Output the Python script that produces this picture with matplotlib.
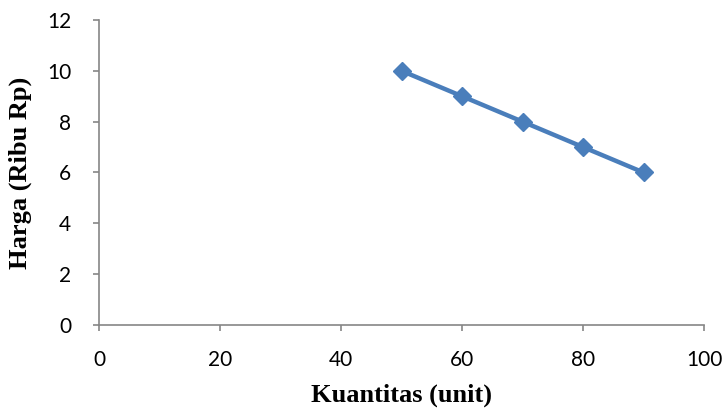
import matplotlib.pyplot as plt

kuantitas = [50, 60, 70, 80, 90]
harga = [10, 9, 8, 7, 6]
x_ticks = [0, 20, 40, 60, 80, 100]
y_ticks = [0, 2, 4, 6, 8, 10, 12]

fig = plt.figure(figsize=(7.27, 4.13), dpi=100)
ax = fig.add_axes([0.1362, 0.2131, 0.8322, 0.7385])

ax.plot(kuantitas, harga, color='#4a7ebb', linewidth=3.2, marker='D',
        markersize=9.5, solid_capstyle='round')

ax.set_xlim(0, 100)
ax.set_ylim(0, 12)
ax.set_xticks(x_ticks)
ax.set_yticks(y_ticks)

for side in ['top', 'right']:
    ax.spines[side].set_visible(False)
for side in ['left', 'bottom']:
    ax.spines[side].set_color('#868686')
    ax.spines[side].set_linewidth(1.2)

ax.tick_params(axis='both', direction='out', length=4, width=1.2,
               color='#868686', labelsize=15)
ax.tick_params(axis='x', pad=14)
ax.tick_params(axis='y', pad=16)
for lbl in ax.get_xticklabels() + ax.get_yticklabels():
    lbl.set_family('Lato')

ax.set_xlabel('Kuantitas (unit)', family='Liberation Serif', fontweight='bold',
              fontsize=19, labelpad=10)
ax.set_ylabel('Harga (Ribu Rp)', family='Liberation Serif', fontweight='bold',
              fontsize=19, labelpad=11)

plt.savefig('out.png', dpi=100)
